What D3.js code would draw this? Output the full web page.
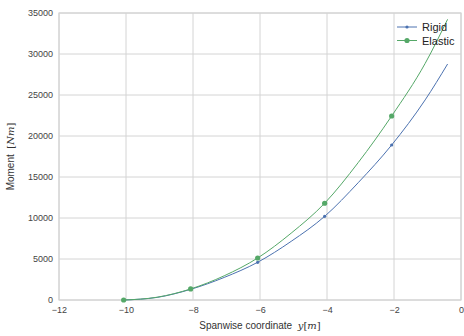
<!DOCTYPE html>
<html>
<head>
<meta charset="utf-8">
<script src="https://cdn.jsdelivr.net/npm/d3@7"></script>
<style>
    body { margin: 0; background: #fff; }
    svg { display: block; font-family: "Liberation Sans", Arial, sans-serif; }
    text { white-space: pre; }
</style>
</head>
<body>
<svg id="chart" width="464" height="336"></svg>
<script>
// spanwise coordinate (m) and bending moment (Nm)
var spanY     = [-10.07, -9.07, -8.07, -7.07, -6.07, -5.07, -4.07, -3.07, -2.07, -1.07, -0.4];
var rigidM    = [0, 320, 1300, 2750, 4600, 7150, 10200, 14300, 18900, 24400, 28780];
var elasticM  = [0, 340, 1350, 2950, 5120, 8150, 11800, 16750, 22440, 28850, 34230];
// markers sit on every second sample
var markerIdx = [0, 2, 4, 6, 8];
var xTicks = [-12, -10, -8, -6, -4, -2, 0];
var yTicks = [0, 5000, 10000, 15000, 20000, 25000, 30000, 35000];

var svg = d3.select("#chart");
var margin = { left: 59, right: 3, top: 13, bottom: 36 };
var width = 464 - margin.left - margin.right,
    height = 336 - margin.top - margin.bottom;

var x = d3.scaleLinear().domain([-12, 0]).range([0, width]);
var y = d3.scaleLinear().domain([0, 35000]).range([height, 0]);

var g = svg.append("g").attr("transform", "translate(" + margin.left + "," + margin.top + ")");

// grid
g.append("g").selectAll("line").data(xTicks).enter().append("line")
    .attr("x1", function (d) { return x(d); }).attr("x2", function (d) { return x(d); })
    .attr("y1", 0).attr("y2", height)
    .attr("stroke", "#d4d4d4").attr("stroke-width", 1);
g.append("g").selectAll("line").data(yTicks).enter().append("line")
    .attr("y1", function (d) { return y(d); }).attr("y2", function (d) { return y(d); })
    .attr("x1", 0).attr("x2", width)
    .attr("stroke", "#d4d4d4").attr("stroke-width", 1);

// frame
g.append("rect").attr("width", width).attr("height", height)
    .attr("fill", "none").attr("stroke", "#d4d4d4").attr("stroke-width", 1.2);

// axes (labels only)
var xAxis = g.append("g").attr("transform", "translate(0," + height + ")")
    .call(d3.axisBottom(x).tickValues(xTicks).tickSize(0).tickPadding(7)
        .tickFormat(function (d) { return d < 0 ? "\u2212" + Math.abs(d) : d; }));
var yAxis = g.append("g")
    .call(d3.axisLeft(y).tickValues(yTicks).tickSize(0).tickPadding(6).tickFormat(d3.format("d")));
[xAxis, yAxis].forEach(function (a) {
    a.select(".domain").remove();
    a.selectAll("text").attr("fill", "#444").style("font-size", "9px")
        .style("font-family", "Liberation Sans, Arial, sans-serif");
});

// series
var series = [
    { name: "Rigid", values: rigidM, color: "#4C72B0", r: 1.6 },
    { name: "Elastic", values: elasticM, color: "#55A868", r: 2.6 }
];

var line = d3.line()
    .x(function (d) { return x(d[0]); })
    .y(function (d) { return y(d[1]); })
    .curve(d3.curveMonotoneX);

series.forEach(function (s) {
    var pts = spanY.map(function (v, i) { return [v, s.values[i]]; });
    g.append("path").datum(pts)
        .attr("d", line)
        .attr("fill", "none")
        .attr("stroke", s.color)
        .attr("stroke-width", 1);
    g.append("g").selectAll("circle")
        .data(markerIdx.map(function (i) { return pts[i]; }))
        .enter().append("circle")
        .attr("cx", function (d) { return x(d[0]); })
        .attr("cy", function (d) { return y(d[1]); })
        .attr("r", s.r)
        .attr("fill", s.color);
});

// legend
var legend = g.append("g").attr("transform", "translate(" + (397 - margin.left) + "," + (27 - margin.top) + ")");
series.forEach(function (s, i) {
    var row = legend.append("g").attr("transform", "translate(0," + (i * 13.5) + ")");
    row.append("line").attr("x1", 0).attr("x2", 20).attr("y1", 0).attr("y2", 0)
        .attr("stroke", s.color).attr("stroke-width", 1);
    row.append("circle").attr("cx", 10).attr("cy", 0).attr("r", s.r).attr("fill", s.color);
    row.append("text").attr("x", 25).attr("y", 4)
        .style("font-size", "11px").attr("fill", "#222").text(s.name);
});

// axis titles
var xt = svg.append("text")
    .attr("x", margin.left + width / 2).attr("y", 329)
    .attr("text-anchor", "middle")
    .style("font-size", "10px").attr("fill", "#333");
xt.append("tspan").text("Spanwise coordinate  ");
xt.append("tspan").style("font-family", "DejaVu Serif, serif").style("font-style", "italic").text("y");
xt.append("tspan").style("font-family", "DejaVu Serif, serif").text("[");
xt.append("tspan").style("font-family", "DejaVu Serif, serif").style("font-style", "italic").text("m");
xt.append("tspan").style("font-family", "DejaVu Serif, serif").text("]");

var yt = svg.append("text")
    .attr("transform", "translate(14," + (margin.top + height / 2) + ") rotate(-90)")
    .attr("text-anchor", "middle")
    .style("font-size", "10px").attr("fill", "#333");
yt.append("tspan").text("Moment  ");
yt.append("tspan").style("font-family", "DejaVu Serif, serif").text("[");
yt.append("tspan").style("font-family", "DejaVu Serif, serif").style("font-style", "italic").text("Nm");
yt.append("tspan").style("font-family", "DejaVu Serif, serif").text("]");
</script>
</body>
</html>
